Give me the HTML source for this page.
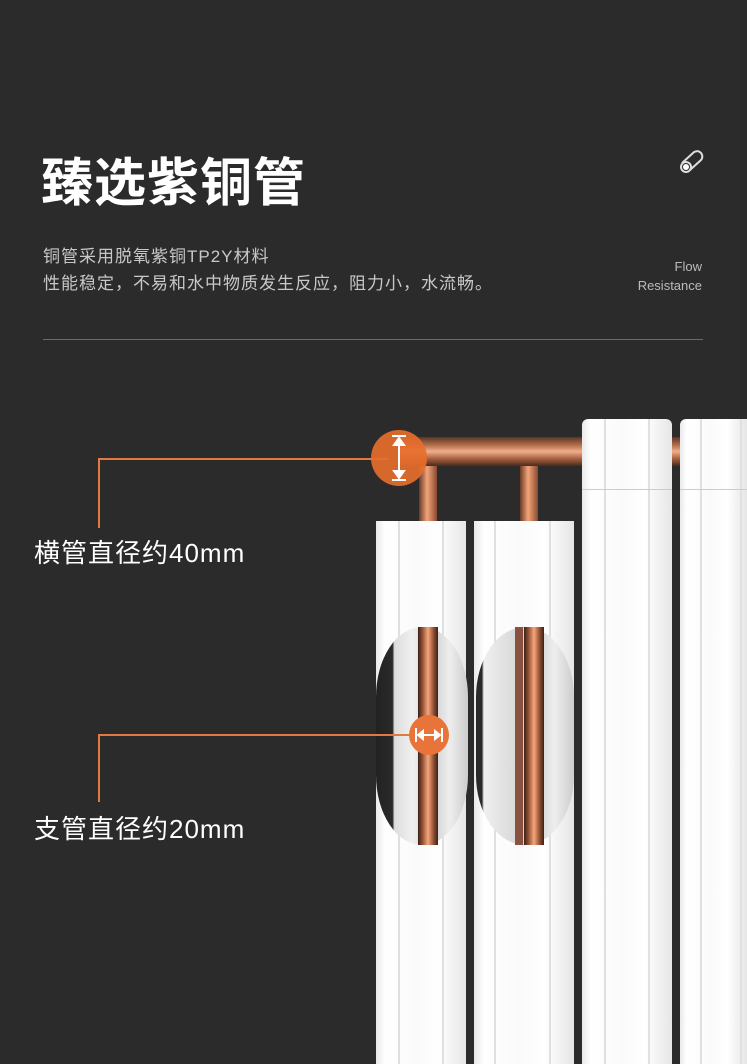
<!DOCTYPE html>
<html><head><meta charset="utf-8"><style>
body{margin:0;width:747px;height:1064px;background:#2b2b2b;position:relative;overflow:hidden;font-family:"Liberation Sans","Noto Sans CJK SC",sans-serif}
.a{position:absolute}
.col{position:absolute;background:linear-gradient(90deg,#e9e9e9 0,#fff 10%,#fafafa 45%,#fff 70%,#e6e6e6 100%)}
.g{position:absolute;top:0;bottom:0;width:2px;background:#e0e0e0}
</style></head><body>
<div class="a" style="left:41px;top:141px;color:#fff;font-size:52px;font-weight:bold;letter-spacing:1px;white-space:nowrap">臻选紫铜管</div>
<div class="a" style="left:43px;top:243px;color:#c8c8c8;font-size:17px;letter-spacing:1px;line-height:27px;white-space:nowrap">铜管采用脱氧紫铜TP2Y材料<br>性能稳定，不易和水中物质发生反应，阻力小，水流畅。</div>
<div class="a" style="right:45px;top:257px;color:#bbb;font-size:13px;line-height:19px;text-align:right">Flow<br>Resistance</div>
<svg class="a" style="left:678px;top:150px" width="28" height="26" viewBox="0 0 28 26"><g fill="none" stroke="#ddd" stroke-width="2"><path d="M4 13 L15 3 A5 5 0 0 1 23 10 L12 20"/><circle cx="8" cy="17" r="5"/></g><circle cx="8" cy="17" r="3" fill="#fff"/></svg>
<div class="a" style="left:43px;top:339px;width:660px;height:1px;background:#6a6a6a"></div>

<div class="a" style="left:400px;top:437px;width:347px;height:29px;background:linear-gradient(#5a3524,#b8734f 30%,#f0b08a 50%,#a8603f 75%,#4a2a1e)"></div>
<div class="a" style="left:419px;top:466px;width:18px;height:56px;background:linear-gradient(90deg,#6a3a26,#f2a57a 45%,#8a4a30)"></div>
<div class="a" style="left:520px;top:466px;width:18px;height:56px;background:linear-gradient(90deg,#6a3a26,#f2a57a 45%,#8a4a30)"></div>

<div class="col" style="left:376px;top:521px;width:90px;height:543px"><div class="g" style="left:22px"></div><div class="g" style="left:66px"></div></div>
<div class="col" style="left:474px;top:521px;width:100px;height:543px"><div class="g" style="left:20px"></div><div class="g" style="left:75px"></div></div>
<div class="col" style="left:582px;top:419px;width:90px;height:645px;border-radius:6px 6px 0 0"><div class="g" style="left:22px"></div><div class="g" style="left:66px"></div><div class="a" style="left:0;right:0;top:70px;height:1px;background:#ccc"></div></div>
<div class="col" style="left:680px;top:419px;width:67px;height:645px;border-radius:6px 0 0 0"><div class="g" style="left:20px"></div><div class="g" style="left:60px"></div><div class="a" style="left:0;right:0;top:70px;height:1px;background:#ccc"></div></div>

<div class="a" style="left:376px;top:627px;width:92px;height:218px;border-radius:46px/70px;background:linear-gradient(90deg,#222 0,#2a2a2a 18%,#ddd 20%,#f0f0f0 40%,#ccc 60%,#eee 80%,#ccc 100%)"></div>
<div class="a" style="left:418px;top:627px;width:20px;height:218px;background:linear-gradient(90deg,#3a2218,#8a4a30 20%,#f6a67a 50%,#8a4a30 80%,#3a2218)"></div>
<div class="a" style="left:476px;top:627px;width:98px;height:218px;border-radius:49px/70px;background:linear-gradient(90deg,#2a2a2a 0,#2a2a2a 6%,#f0f0f0 8%,#e0e0e0 30%,#ccc 60%,#eee 80%,#ccc 100%)"></div>
<div class="a" style="left:515px;top:627px;width:8px;height:218px;background:#8a5040"></div>
<div class="a" style="left:524px;top:627px;width:20px;height:218px;background:linear-gradient(90deg,#3a2218,#8a4a30 20%,#f6a67a 50%,#8a4a30 80%,#3a2218)"></div>

<div class="a" style="left:98px;top:458px;width:290px;height:2px;background:#e07a40"></div>
<div class="a" style="left:98px;top:458px;width:2px;height:70px;background:#e07a40"></div>
<div class="a" style="left:371px;top:430px;width:56px;height:56px;border-radius:50%;background:rgba(230,110,45,.92)"></div>
<svg class="a" style="left:388px;top:434px" width="22" height="48"><g stroke="#fff" stroke-width="2" fill="#fff"><line x1="4" y1="2" x2="18" y2="2"/><line x1="4" y1="46" x2="18" y2="46"/><line x1="11" y1="8" x2="11" y2="40"/><path d="M6 11 L11 4 L16 11Z M6 37 L11 44 L16 37Z"/></g></svg>
<div class="a" style="left:98px;top:734px;width:315px;height:2px;background:#e07a40"></div>
<div class="a" style="left:98px;top:734px;width:2px;height:68px;background:#e07a40"></div>
<div class="a" style="left:409px;top:715px;width:40px;height:40px;border-radius:50%;background:#e8743a"></div>
<svg class="a" style="left:414px;top:727px" width="30" height="16"><g stroke="#fff" stroke-width="2" fill="#fff"><line x1="2" y1="1" x2="2" y2="15"/><line x1="28" y1="1" x2="28" y2="15"/><line x1="6" y1="8" x2="24" y2="8"/><path d="M9 4 L4 8 L9 12Z M21 4 L26 8 L21 12Z"/></g></svg>
<div class="a" style="left:34px;top:533px;color:#fff;font-size:26px;letter-spacing:1px;white-space:nowrap">横管直径约40mm</div>
<div class="a" style="left:34px;top:809px;color:#fff;font-size:26px;letter-spacing:1px;white-space:nowrap">支管直径约20mm</div>
</body></html>
